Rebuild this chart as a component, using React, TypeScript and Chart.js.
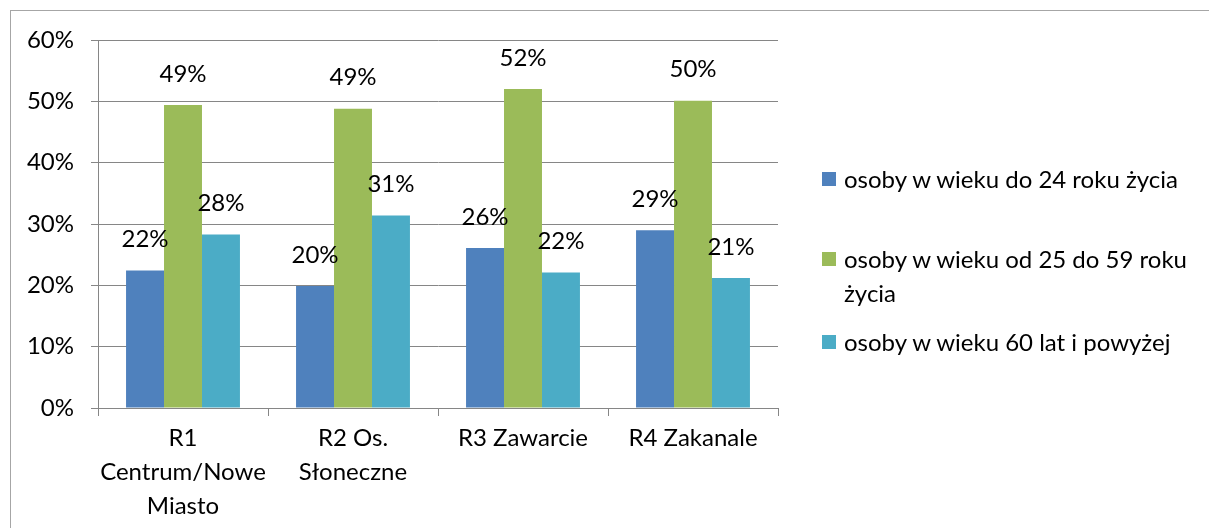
import React, { useEffect, useRef } from "react";
import { Chart, registerables } from "chart.js";

Chart.register(...registerables);

const categories: string[][] = [
  ["R1", "Centrum/Nowe", "Miasto"],
  ["R2 Os.", "Słoneczne"],
  ["R3 Zawarcie"],
  ["R4 Zakanale"],
];
const seriesLabels = [
  "osoby w wieku do 24 roku życia",
  "osoby w wieku od 25 do 59 roku życia",
  "osoby w wieku 60 lat i powyżej",
];
const young = [22.4, 19.9, 26.1, 29.0];
const middle = [49.4, 48.8, 52.0, 50.1];
const older = [28.3, 31.4, 22.1, 21.2];
const colors = ["#4F81BD", "#9BBB59", "#4BACC6"];
const yTicks = [0, 10, 20, 30, 40, 50, 60];

const FONT = "Lato, 'Open Sans', sans-serif";
const FS = 24;

const valueLabels = {
  id: "valueLabels",
  afterDatasetsDraw(chart: any) {
    const ctx = chart.ctx;
    ctx.save();
    ctx.font = `${FS}px ${FONT}`;
    ctx.fillStyle = "#000";
    ctx.textAlign = "center";
    ctx.textBaseline = "middle";
    chart.data.datasets.forEach((ds: any, di: number) => {
      const meta = chart.getDatasetMeta(di);
      meta.data.forEach((bar: any, i: number) => {
        ctx.fillText(Math.round(ds.data[i]) + "%", bar.x, bar.y - 31);
      });
    });
    ctx.restore();
  },
};

export default function App() {
  const ref = useRef<HTMLCanvasElement>(null);
  useEffect(() => {
    if (!ref.current) return;
    const grid = "#868686";
    const chart = new Chart(ref.current, {
      type: "bar",
      data: {
        labels: categories,
        datasets: [young, middle, older].map((d, i) => ({
          label: seriesLabels[i],
          data: d,
          backgroundColor: colors[i],
          borderWidth: 0,
          categoryPercentage: 0.67,
          barPercentage: 1,
        })),
      },
      options: {
        animation: false,
        responsive: false,
        layout: { padding: { left: 0, top: 40, right: 431, bottom: 0 } },
        plugins: { legend: { display: false }, tooltip: { enabled: false } },
        scales: {
          y: {
            min: 0,
            max: 60,
            afterFit: (s: any) => {
              s.width = 98;
            },
            afterBuildTicks: (s: any) => {
              s.ticks = yTicks.map((v) => ({ value: v }));
            },
            ticks: {
              callback: (v: any) => v + "%",
              color: "#000",
              font: { family: FONT, size: FS },
              padding: 17,
            },
            grid: { color: grid, tickLength: 7, lineWidth: 1 },
            border: { color: grid },
          },
          x: {
            afterFit: (s: any) => {
              s.height = 120;
            },
            ticks: {
              color: "#000",
              font: { family: FONT, size: FS, lineHeight: 34 / FS },
              padding: 5,
              maxRotation: 0,
              autoSkip: false,
            },
            grid: { color: grid, drawOnChartArea: false, tickLength: 8, offset: true },
            border: { color: grid },
          },
        },
      },
      plugins: [valueLabels],
    });
    return () => chart.destroy();
  }, []);

  const legendY = [179, 259, 342];
  return (
    <div
      style={{
        position: "fixed",
        left: 0,
        top: 0,
        width: 1209,
        height: 528,
        overflow: "hidden",
        background: "#fff",
        fontFamily: FONT,
      }}
    >
      <div
        style={{
          position: "absolute",
          left: 10,
          top: 10,
          width: 1300,
          height: 700,
          border: "1px solid #a6a6a6",
        }}
      />
      <canvas ref={ref} width={1209} height={528} style={{ position: "absolute", left: 0, top: 0 }} />
      {seriesLabels.map((lab, i) => (
        <div
          key={i}
          style={{
            position: "absolute",
            left: 822,
            top: legendY[i] - 17,
            width: 385,
            display: "flex",
            alignItems: "flex-start",
            fontSize: FS,
            lineHeight: "34px",
            color: "#000",
            whiteSpace: "normal",
          }}
        >
          <span
            style={{
              display: "inline-block",
              width: 14,
              height: 14,
              marginTop: 10,
              marginRight: 8,
              background: colors[i],
              flex: "0 0 auto",
            }}
          />
          <span style={{ width: 362 }}>{lab}</span>
        </div>
      ))}
    </div>
  );
}
